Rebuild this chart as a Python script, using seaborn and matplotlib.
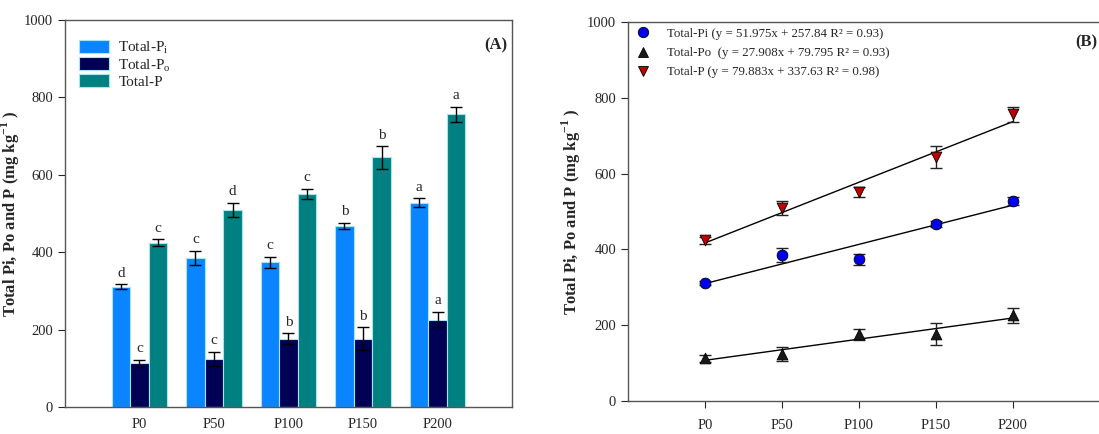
import numpy as np
import pandas as pd
import seaborn as sns
import matplotlib.pyplot as plt
from matplotlib.lines import Line2D

# values
doses = ["P0", "P50", "P100", "P150", "P200"]

pi_mean = [311, 385, 374, 468, 528]
pi_err = [6, 19, 14, 8, 11]
po_mean = [113, 124, 176, 177, 226]
po_err = [9, 18, 14, 29, 20]
tp_mean = [424, 509, 551, 645, 756]
tp_err = [9, 18, 13, 29, 20]

pi_letters = ["d", "c", "c", "b", "a"]
po_letters = ["c", "c", "b", "b", "a"]
tp_letters = ["c", "d", "c", "b", "a"]

series_a = ["Total-P$_\\mathrm{i}$", "Total-P$_\\mathrm{o}$", "Total-P"]
legend_b = ["Total-Pi (y = 51.975x + 257.84 R\u00b2 = 0.93)",
            "Total-Po  (y = 27.908x + 79.795 R\u00b2 = 0.93)",
            "Total-P (y = 79.883x + 337.63 R\u00b2 = 0.98)"]

sns.set_style("ticks")
plt.rcParams["font.family"] = ["Liberation Serif", "DejaVu Serif"]
plt.rcParams["mathtext.fontset"] = "custom"
plt.rcParams["mathtext.rm"] = "Liberation Serif"
plt.rcParams["mathtext.bf"] = "Liberation Serif:bold"

means = [pi_mean, po_mean, tp_mean]
errs = [pi_err, po_err, tp_err]
letters = [pi_letters, po_letters, tp_letters]

df = pd.DataFrame({
    "dose": doses * 3,
    "series": np.repeat(series_a, len(doses)),
    "value": pi_mean + po_mean + tp_mean,
})

fig = plt.figure(figsize=(10.99, 4.34), dpi=100)
ax1 = fig.add_axes([0.0591, 0.0622, 0.4068, 0.8917])
ax2 = fig.add_axes([0.5714, 0.0760, 0.4340, 0.8733])

ylab = "Total Pi, Po and P (mg kg$^{\\mathbf{-1}}$ )"

# ---- panel A
colors_a = ["#0A84FF", "#000055", "#008080"]
sns.barplot(data=df, x="dose", y="value", hue="series", palette=colors_a,
            saturation=1, width=0.75, gap=0, errorbar=None,
            edgecolor="#A8E4F0", linewidth=0.8, ax=ax1)

for cont, m, e, let in zip(ax1.containers, means, errs, letters):
    xs = [b.get_x() + b.get_width() / 2 for b in cont]
    ax1.errorbar(xs, m, yerr=e, fmt="none", ecolor="black", elinewidth=1,
                 capsize=4, capthick=1)
    for x, mm, ee, l in zip(xs, m, e, let):
        ax1.text(x, mm + ee + 12, l, ha="center", va="bottom", fontsize=11)

ax1.set_xlim(-1, 5)
ax1.set_ylim(0, 1000)
ax1.set_yticks([0, 200, 400, 600, 800, 1000])
ax1.set_xlabel("")
ax1.set_ylabel(ylab, fontsize=12, fontweight="bold")
ax1.yaxis.set_label_coords(-0.096, 0.5)
ax1.tick_params(axis="x", length=0, labelsize=10.5, pad=8)
ax1.tick_params(axis="y", length=5, labelsize=10.5, direction="out")
ax1.text(0.99, 0.955, "(A)", transform=ax1.transAxes, ha="right", va="top",
         fontsize=12, fontweight="bold")
ax1.legend(loc="upper left", frameon=False, fontsize=11,
           bbox_to_anchor=(0.0, 0.985), handlelength=2.0,
           handleheight=0.9, handletextpad=0.6, labelspacing=0.05)
for sp in ax1.spines.values():
    sp.set_color("#555555")
    sp.set_linewidth(1)

# ---- panel B
xpos = np.arange(len(doses))
marker_style = [("o", "#0000EE"), ("^", "#1A1A1A"), ("v", "#C00000")]
handles = []
for m, e, (mk, c), lab in zip(means, errs, marker_style, legend_b):
    ax2.errorbar(xpos, m, yerr=e, fmt="none", ecolor="#222222",
                 elinewidth=1, capsize=4, capthick=1, zorder=2)
    sns.regplot(x=xpos, y=np.array(m), scatter=False, ci=None, ax=ax2,
                line_kws={"color": "black", "lw": 1, "zorder": 1})
    sns.scatterplot(x=xpos, y=m, marker=mk, color=c, edgecolor="black",
                    linewidth=0.6, s=60, ax=ax2, zorder=3)
    handles.append(Line2D([], [], marker=mk, color=c, markeredgecolor="black",
                          markeredgewidth=0.6, markersize=7.5, linestyle="none",
                          label=lab))

ax2.set_xlim(-1, 5.2)
ax2.set_ylim(0, 1000)
ax2.set_xticks(xpos)
ax2.set_xticklabels(doses)
ax2.set_yticks([0, 200, 400, 600, 800, 1000])
ax2.set_ylabel(ylab, fontsize=12, fontweight="bold")
ax2.yaxis.set_label_coords(-0.094, 0.5)
ax2.tick_params(axis="x", length=5, labelsize=10.5, direction="out", pad=8)
ax2.tick_params(axis="y", length=5, labelsize=10.5, direction="out")
ax2.text(0.985, 0.968, "(B)", transform=ax2.transAxes, ha="right", va="top",
         fontsize=12, fontweight="bold")
ax2.legend(handles=handles, loc="upper left", frameon=False, fontsize=9.3,
           bbox_to_anchor=(-0.01, 1.015), handlelength=1.3, handletextpad=1.2,
           labelspacing=0.55)
for sp in ax2.spines.values():
    sp.set_color("#555555")
    sp.set_linewidth(1)

fig.savefig("out.png", dpi=100)
